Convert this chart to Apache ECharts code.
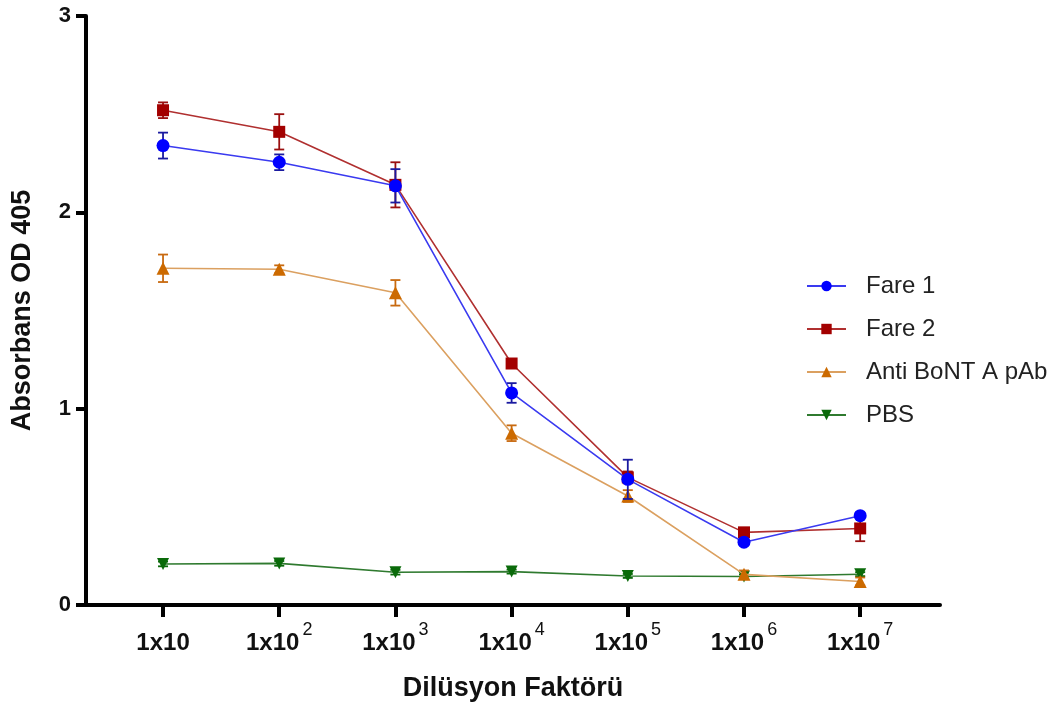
<!DOCTYPE html>
<html>
<head>
<meta charset="utf-8">
<script src="https://cdn.jsdelivr.net/npm/echarts@6/dist/echarts.min.js"></script>
<style>
html,body{margin:0;padding:0;background:#fff;}
#main{width:1060px;height:708px;}
</style>
</head>
<body>
<div id="main"></div>
<script>
// ---- data ----
const dilutionExponents = ['', '2', '3', '4', '5', '6', '7'];
const fare1 = [2.34, 2.255, 2.135, 1.08, 0.64, 0.32, 0.455];
const fare1Err = [0.066, 0.04, 0.085, 0.05, 0.10, 0.015, 0.015];
const fare2 = [2.52, 2.41, 2.14, 1.23, 0.65, 0.37, 0.39];
const fare2Err = [0.04, 0.09, 0.115, 0.012, 0.03, 0.02, 0.065];
const antiBoNT = [1.715, 1.71, 1.59, 0.875, 0.555, 0.156, 0.12];
const antiBoNTErr = [0.07, 0.02, 0.065, 0.04, 0.03, 0.02, 0.02];
const pbs = [0.209, 0.212, 0.167, 0.17, 0.148, 0.145, 0.157];
const pbsErr = [0.012, 0.012, 0.012, 0.01, 0.01, 0.01, 0.01];
const yTicks = [0, 1, 2, 3];
const seriesNames = ['Fare 1', 'Fare 2', 'Anti BoNT A pAb', 'PBS'];

const FONT = 'Liberation Sans, Arial, sans-serif';
const idx = dilutionExponents.map((_, i) => i);

function pts(vals) { return vals.map((v, i) => [i, v]); }
function errPts(vals, errs) { return vals.map((v, i) => [i, v, errs[i]]); }

const styles = [
  {name: seriesNames[0], vals: fare1, errs: fare1Err, symbol: 'circle', size: 13, mark: '#0000ff', line: '#3a3af0', err: '#1a1aa0', z: 8},
  {name: seriesNames[1], vals: fare2, errs: fare2Err, symbol: 'rect', size: 12, mark: '#a30000', line: '#b03030', err: '#9a1010', z: 6},
  {name: seriesNames[2], vals: antiBoNT, errs: antiBoNTErr, symbol: 'triangle', size: 13, mark: '#cc6a00', line: '#dba060', err: '#c86a10', z: 4},
  {name: seriesNames[3], vals: pbs, errs: pbsErr, symbol: 'path://M0,0 L10,0 L5,9 Z', size: 12, mark: '#0a6a0a', line: '#2f7a2f', err: '#0a6a0a', z: 2}
];

const series = [];
styles.forEach(s => {
  series.push({
    type: 'custom',
    name: s.name + ' err',
    data: errPts(s.vals, s.errs),
    z: s.z,
    silent: true,
    renderItem: function (params, api) {
      const x = api.value(0), y = api.value(1), e = api.value(2);
      const top = api.coord([x, y + e]);
      const bot = api.coord([x, y - e]);
      const hw = 5;
      const st = {stroke: s.err, lineWidth: 1.8};
      return {
        type: 'group',
        children: [
          {type: 'line', shape: {x1: top[0], y1: top[1], x2: bot[0], y2: bot[1]}, style: st},
          {type: 'line', shape: {x1: top[0] - hw, y1: top[1], x2: top[0] + hw, y2: top[1]}, style: st},
          {type: 'line', shape: {x1: bot[0] - hw, y1: bot[1], x2: bot[0] + hw, y2: bot[1]}, style: st}
        ]
      };
    }
  });
  series.push({
    type: 'line',
    name: s.name,
    data: pts(s.vals),
    z: s.z + 1,
    symbol: s.symbol,
    symbolSize: s.size,
    itemStyle: {color: s.mark},
    lineStyle: {color: s.line, width: 1.6},
    emphasis: {disabled: true},
    animation: false
  });
});

const chart = echarts.init(document.getElementById('main'));
chart.setOption({
  animation: false,
  backgroundColor: '#ffffff',
  grid: {left: 86, right: 120, top: 16, bottom: 103, containLabel: false},
  legend: {
    data: seriesNames,
    orient: 'vertical',
    left: 801,
    top: 269,
    itemWidth: 39,
    itemHeight: 13,
    itemGap: 19,
    textStyle: {fontFamily: FONT, fontSize: 24, color: '#222', lineHeight: 24, padding: [0, 0, 0, 15]}
  },
  xAxis: {
    type: 'value',
    min: -0.663,
    max: 6.687,
    name: 'Dilüsyon Faktörü',
    nameLocation: 'middle',
    nameGap: 70,
    nameTextStyle: {fontFamily: FONT, fontSize: 27, fontWeight: 'bold', color: '#111'},
    axisLine: {show: true, onZero: false, lineStyle: {color: '#000', width: 4}},
    axisTick: {show: true, length: 12, lineStyle: {color: '#000', width: 4}, customValues: idx},
    axisLabel: {
      customValues: idx,
      margin: 16,
      formatter: function (v) {
        const e = dilutionExponents[Math.round(v)];
        return e ? '{b|1x10}{s|' + e + '}' : '{b|1x10}';
      },
      rich: {
        b: {fontFamily: FONT, fontSize: 24, fontWeight: 'bold', color: '#111', lineHeight: 34, verticalAlign: 'bottom'},
        s: {fontFamily: FONT, fontSize: 18, fontWeight: 'normal', color: '#111', lineHeight: 34, verticalAlign: 'top', padding: [0, 0, 0, 3]}
      }
    },
    splitLine: {show: false}
  },
  yAxis: {
    type: 'value',
    min: 0,
    max: 3,
    interval: 1,
    name: 'Absorbans OD 405',
    nameLocation: 'middle',
    nameRotate: 90,
    nameGap: 50,
    nameTextStyle: {fontFamily: FONT, fontSize: 27, fontWeight: 'bold', color: '#111'},
    axisLine: {show: true, onZero: false, lineStyle: {color: '#000', width: 4}},
    axisTick: {show: true, length: 10, lineStyle: {color: '#000', width: 4}},
    axisLabel: {
      margin: 15,
      fontFamily: FONT, fontSize: 22, fontWeight: 'bold', color: '#111',
      formatter: function (v) { return yTicks.indexOf(v) >= 0 ? String(v) : ''; }
    },
    splitLine: {show: false}
  },
  series: series
});
</script>
</body>
</html>
